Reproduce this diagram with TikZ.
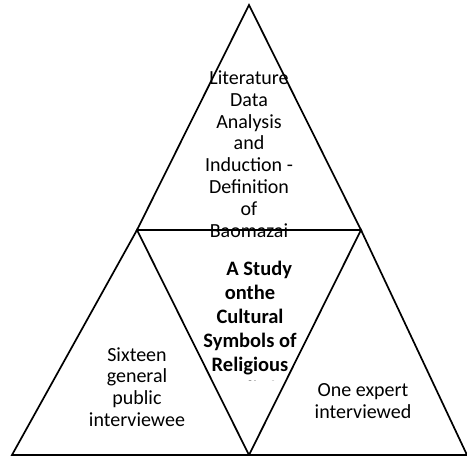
\documentclass[tikz,border=0pt]{standalone}
\usepackage{fontspec}
\setmainfont{Carlito}
\usepackage{tikz}
\usetikzlibrary{positioning}

\begin{document}
\begin{tikzpicture}[x=1pt, y=1pt, tri/.style={draw=black, line width=1.7pt, line join=miter}, label/.style={draw=none, fill=none, align=center, inner sep=0pt, font=\fontsize{20}{21.8}\selectfont}, boldlabel/.style={draw=none, fill=none, align=center, inner sep=0pt, font=\fontsize{20.5}{24}\selectfont\bfseries}]

    \useasboundingbox (0,0) rectangle (467,457);

    %Corners
    \coordinate (apex) at (249,452);
    \coordinate (midleft) at (137,227);
    \coordinate (midright) at (361,227);
    \coordinate (baseleft) at (12,2);
    \coordinate (basemid) at (249,2);
    \coordinate (baseright) at (467,2);

    %Nodes
    \node[label](literature) at (249,303) {Literature\\Data\\Analysis\\and\\Induction -\\Definition\\of\\Baomazai};
    \begin{scope}
        \clip (150,76.5) rectangle (350,227);
        \node[boldlabel](study) at (250,129) {\hspace*{0.9em}A Study\\onthe\\Cultural\\Symbols of\\Religious\\Belief};
    \end{scope}
    \node[label](public) at (137,70) {Sixteen\\general\\public\\interviewee};
    \node[label](expert) at (363,56) {One expert\\interviewed};

    %Lines
    \draw[tri] (apex) -- (midleft) -- (midright) -- cycle;
    \draw[tri] (midleft) -- (baseleft) -- (basemid) -- cycle;
    \draw[tri] (midright) -- (basemid) -- (baseright) -- cycle;

\end{tikzpicture}
\end{document}
